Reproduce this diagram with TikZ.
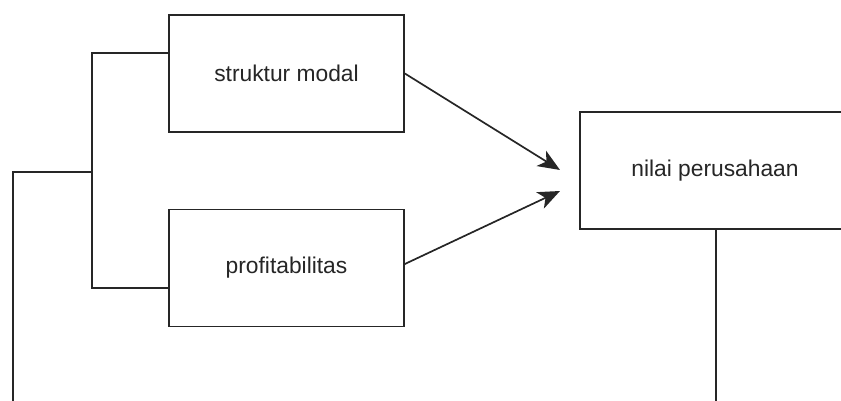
\documentclass[tikz,border=0pt]{standalone}
\usepackage{fontspec}
\setmainfont{Liberation Sans}
\usetikzlibrary{arrows.meta,calc}
\begin{document}
\begin{tikzpicture}[x=1pt,y=-1pt,
  box/.style={draw=black!85,line width=1.7pt,fill=white,minimum width=235pt,minimum height=117pt,inner sep=0pt,font=\fontsize{22.8}{26}\selectfont,text=black!85},
  wire/.style={draw=black!85,line width=1.7pt},
  arr/.style={wire,-{Stealth[length=22pt,width=18pt,inset=6pt]}}]
\useasboundingbox (0,0) rectangle (841,401);
\clip (0,0) rectangle (841,401);
\node[box] (sm) at (286.5,73.5) {struktur modal};
\node[box] (pf) at (286.5,268) {profitabilitas};
\node[box,minimum width=270pt] (np) at (715,170.5) {nilai perusahaan};
\coordinate (j) at (92,172);
\coordinate (l) at (13,172);
\coordinate (lb) at (13,410);
\coordinate (nb) at (716,410);
\coordinate (t1) at (560,170);
\coordinate (t2) at (560,191);
\draw[wire] ($(sm.west)+(0,-20.5)$) -| (j) |- ($(pf.west)+(0,20)$);
\draw[wire] (j) -- (l) -- (lb);
\draw[wire] (np.south -| nb) -- (nb);
\draw[arr] ($(sm.east)+(0,0)$) -- (t1);
\draw[arr] ($(pf.east)+(0,-4)$) -- (t2);
\end{tikzpicture}
\end{document}
